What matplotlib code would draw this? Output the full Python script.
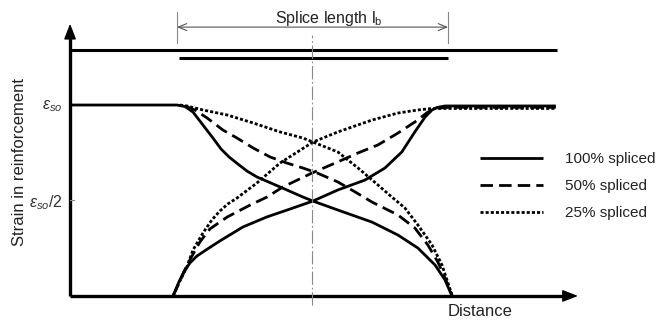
import matplotlib
matplotlib.use("Agg")
import matplotlib.pyplot as plt

plt.rcParams['font.family'] = ['Liberation Sans', 'DejaVu Sans']
plt.rcParams['mathtext.fontset'] = 'custom'
plt.rcParams['mathtext.rm'] = 'Liberation Sans'
plt.rcParams['mathtext.it'] = 'Liberation Sans:italic'

# distance in units of splice length (0 = splice start, 1 = splice end)
# strain in units of eps_so
dist_100_fall = [-0.379, 0.007, 0.036, 0.065, 0.101, 0.137, 0.166, 0.195, 0.227, 0.260, 0.296,
                 0.379, 0.462, 0.498, 0.588, 0.711, 0.805, 0.877, 0.939, 0.975, 1.0]
strain_100_fall = [1.0, 1.0, 0.992, 0.963, 0.895, 0.827, 0.770, 0.728, 0.691, 0.654, 0.623,
                   0.571, 0.518, 0.497, 0.450, 0.387, 0.319, 0.251, 0.162, 0.084, 0.0]
dist_100_rise = [-0.007, 0.014, 0.032, 0.054, 0.079, 0.112, 0.162, 0.245, 0.332, 0.415, 0.498,
                 0.588, 0.686, 0.758, 0.819, 0.866, 0.903, 0.928, 0.946, 0.975, 1.375]
strain_100_rise = [0.0, 0.073, 0.126, 0.173, 0.209, 0.241, 0.288, 0.361, 0.414, 0.455, 0.497,
                   0.555, 0.607, 0.670, 0.754, 0.859, 0.937, 0.974, 0.987, 0.995, 0.995]

dist_50_fall = [0.036, 0.054, 0.072, 0.116, 0.173, 0.224, 0.282, 0.343, 0.404, 0.462, 0.513,
                0.588, 0.650, 0.711, 0.747, 0.805, 0.866, 0.913, 0.949, 0.975, 1.0]
strain_50_fall = [0.995, 0.984, 0.974, 0.932, 0.869, 0.827, 0.775, 0.728, 0.696, 0.670, 0.644,
                  0.597, 0.545, 0.492, 0.466, 0.424, 0.356, 0.267, 0.178, 0.094, 0.005]
dist_50_rise = [-0.007, 0.018, 0.043, 0.090, 0.126, 0.188, 0.271, 0.332, 0.390, 0.495,
                0.588, 0.661, 0.733, 0.805, 0.866, 0.913, 0.949, 0.986, 1.375]
strain_50_rise = [0.0, 0.079, 0.162, 0.283, 0.351, 0.413, 0.476, 0.518, 0.571, 0.644,
                  0.702, 0.749, 0.791, 0.853, 0.911, 0.963, 0.984, 0.988, 0.988]

dist_25_fall = [0.018, 0.043, 0.101, 0.188, 0.282, 0.379, 0.462, 0.498, 0.588, 0.661,
                0.733, 0.783, 0.830, 0.877, 0.928, 0.964, 0.982, 1.0]
strain_25_fall = [1.0, 0.995, 0.974, 0.948, 0.906, 0.859, 0.827, 0.806, 0.754, 0.670,
                  0.581, 0.518, 0.461, 0.372, 0.267, 0.162, 0.084, 0.005]
dist_25_rise = [-0.007, 0.018, 0.043, 0.065, 0.101, 0.133, 0.162, 0.191, 0.224, 0.296, 0.379,
                0.498, 0.588, 0.711, 0.805, 0.877, 0.928, 0.986, 1.375]
strain_25_rise = [0.0, 0.079, 0.152, 0.241, 0.330, 0.398, 0.445, 0.482, 0.513, 0.592, 0.696,
                  0.806, 0.859, 0.921, 0.958, 0.974, 0.982, 0.982, 0.982]

labels = ["100% spliced", "50% spliced", "25% spliced"]

fig = plt.figure(figsize=(6.66, 3.2), dpi=100)
ax = fig.add_axes([0, 0, 1, 1])
ax.set_xlim(-0.632, 1.773)
ax.set_ylim(-0.126, 1.550)
ax.axis('off')

lw = 2.0
dash = (4.5, 2.2)
dot = (1.1, 0.75)

l1, = ax.plot(dist_100_fall, strain_100_fall, color='black', lw=lw, solid_capstyle='butt')
ax.plot(dist_100_rise, strain_100_rise, color='black', lw=lw, solid_capstyle='butt')
l2, = ax.plot(dist_50_fall, strain_50_fall, color='black', lw=lw, dashes=dash)
ax.plot(dist_50_rise, strain_50_rise, color='black', lw=lw, dashes=dash)
l3, = ax.plot(dist_25_fall, strain_25_fall, color='black', lw=lw, dashes=dot)
ax.plot(dist_25_rise, strain_25_rise, color='black', lw=lw, dashes=dot)

# axes with arrows
ax.plot([-0.379, -0.379], [0, 1.40], color='black', lw=2.4, solid_capstyle='butt')
ax.plot([-0.379, 1.43], [0, 0], color='black', lw=2.4, solid_capstyle='butt')
ax.annotate('', xy=(-0.379, 1.44), xytext=(-0.379, 1.36),
            arrowprops=dict(arrowstyle='-|>,head_length=0.95,head_width=0.37',
                            mutation_scale=10, color='black', lw=1))
ax.annotate('', xy=(1.465, 0), xytext=(1.40, 0),
            arrowprops=dict(arrowstyle='-|>,head_length=0.95,head_width=0.37',
                            mutation_scale=10, color='black', lw=1))

# bars
ax.plot([-0.379, 1.379], [1.288, 1.288], color='black', lw=2.2, solid_capstyle='butt')
ax.plot([0.014, 0.986], [1.246, 1.246], color='black', lw=2.2, solid_capstyle='butt')

# splice length dimension
grey = '#888888'
ax.annotate('', xy=(0.007, 1.408), xytext=(0.986, 1.408),
            arrowprops=dict(arrowstyle='<->,head_length=0.6,head_width=0.25',
                            mutation_scale=10, color='#555555', lw=0.8, shrinkA=0, shrinkB=0))
ax.plot([0.007, 0.007], [1.325, 1.487], color=grey, lw=0.8)
ax.plot([0.986, 0.986], [1.325, 1.487], color=grey, lw=0.8)
ax.text(0.556, 1.455, r"Splice length l$_\mathrm{b}$", ha='center', va='center',
        fontsize=11.5, color='#222222')

# centre line
ax.plot([0.495, 0.495], [-0.047, 1.366], color=grey, lw=0.8, dashes=(12, 2.5, 1.5, 2.5))

# y labels
ax.text(-0.405, 0.995, r"$\epsilon_{so}$", ha='right', va='center', fontsize=11.5, color='#333333')
ax.text(-0.405, 0.49, r"$\epsilon_{so}$/2", ha='right', va='center', fontsize=11.5, color='#333333')
ax.plot([-0.379, -0.365], [0.5, 0.5], color=grey, lw=0.8)
ax.text(-0.560, 0.699, "Strain in reinforcement", rotation=90, ha='center', va='center',
        fontsize=12, color='#222222')
ax.text(1.101, -0.084, "Distance", ha='center', va='center', fontsize=12, color='#222222')

ax.legend([l1, l2, l3], labels, loc='upper left', bbox_to_anchor=(0.721, 0.525),
          frameon=False, fontsize=11, handlelength=4.1, handletextpad=1.45,
          labelspacing=0.86, borderpad=0, borderaxespad=0, labelcolor='#222222')

fig.savefig('out.png', dpi=100)
